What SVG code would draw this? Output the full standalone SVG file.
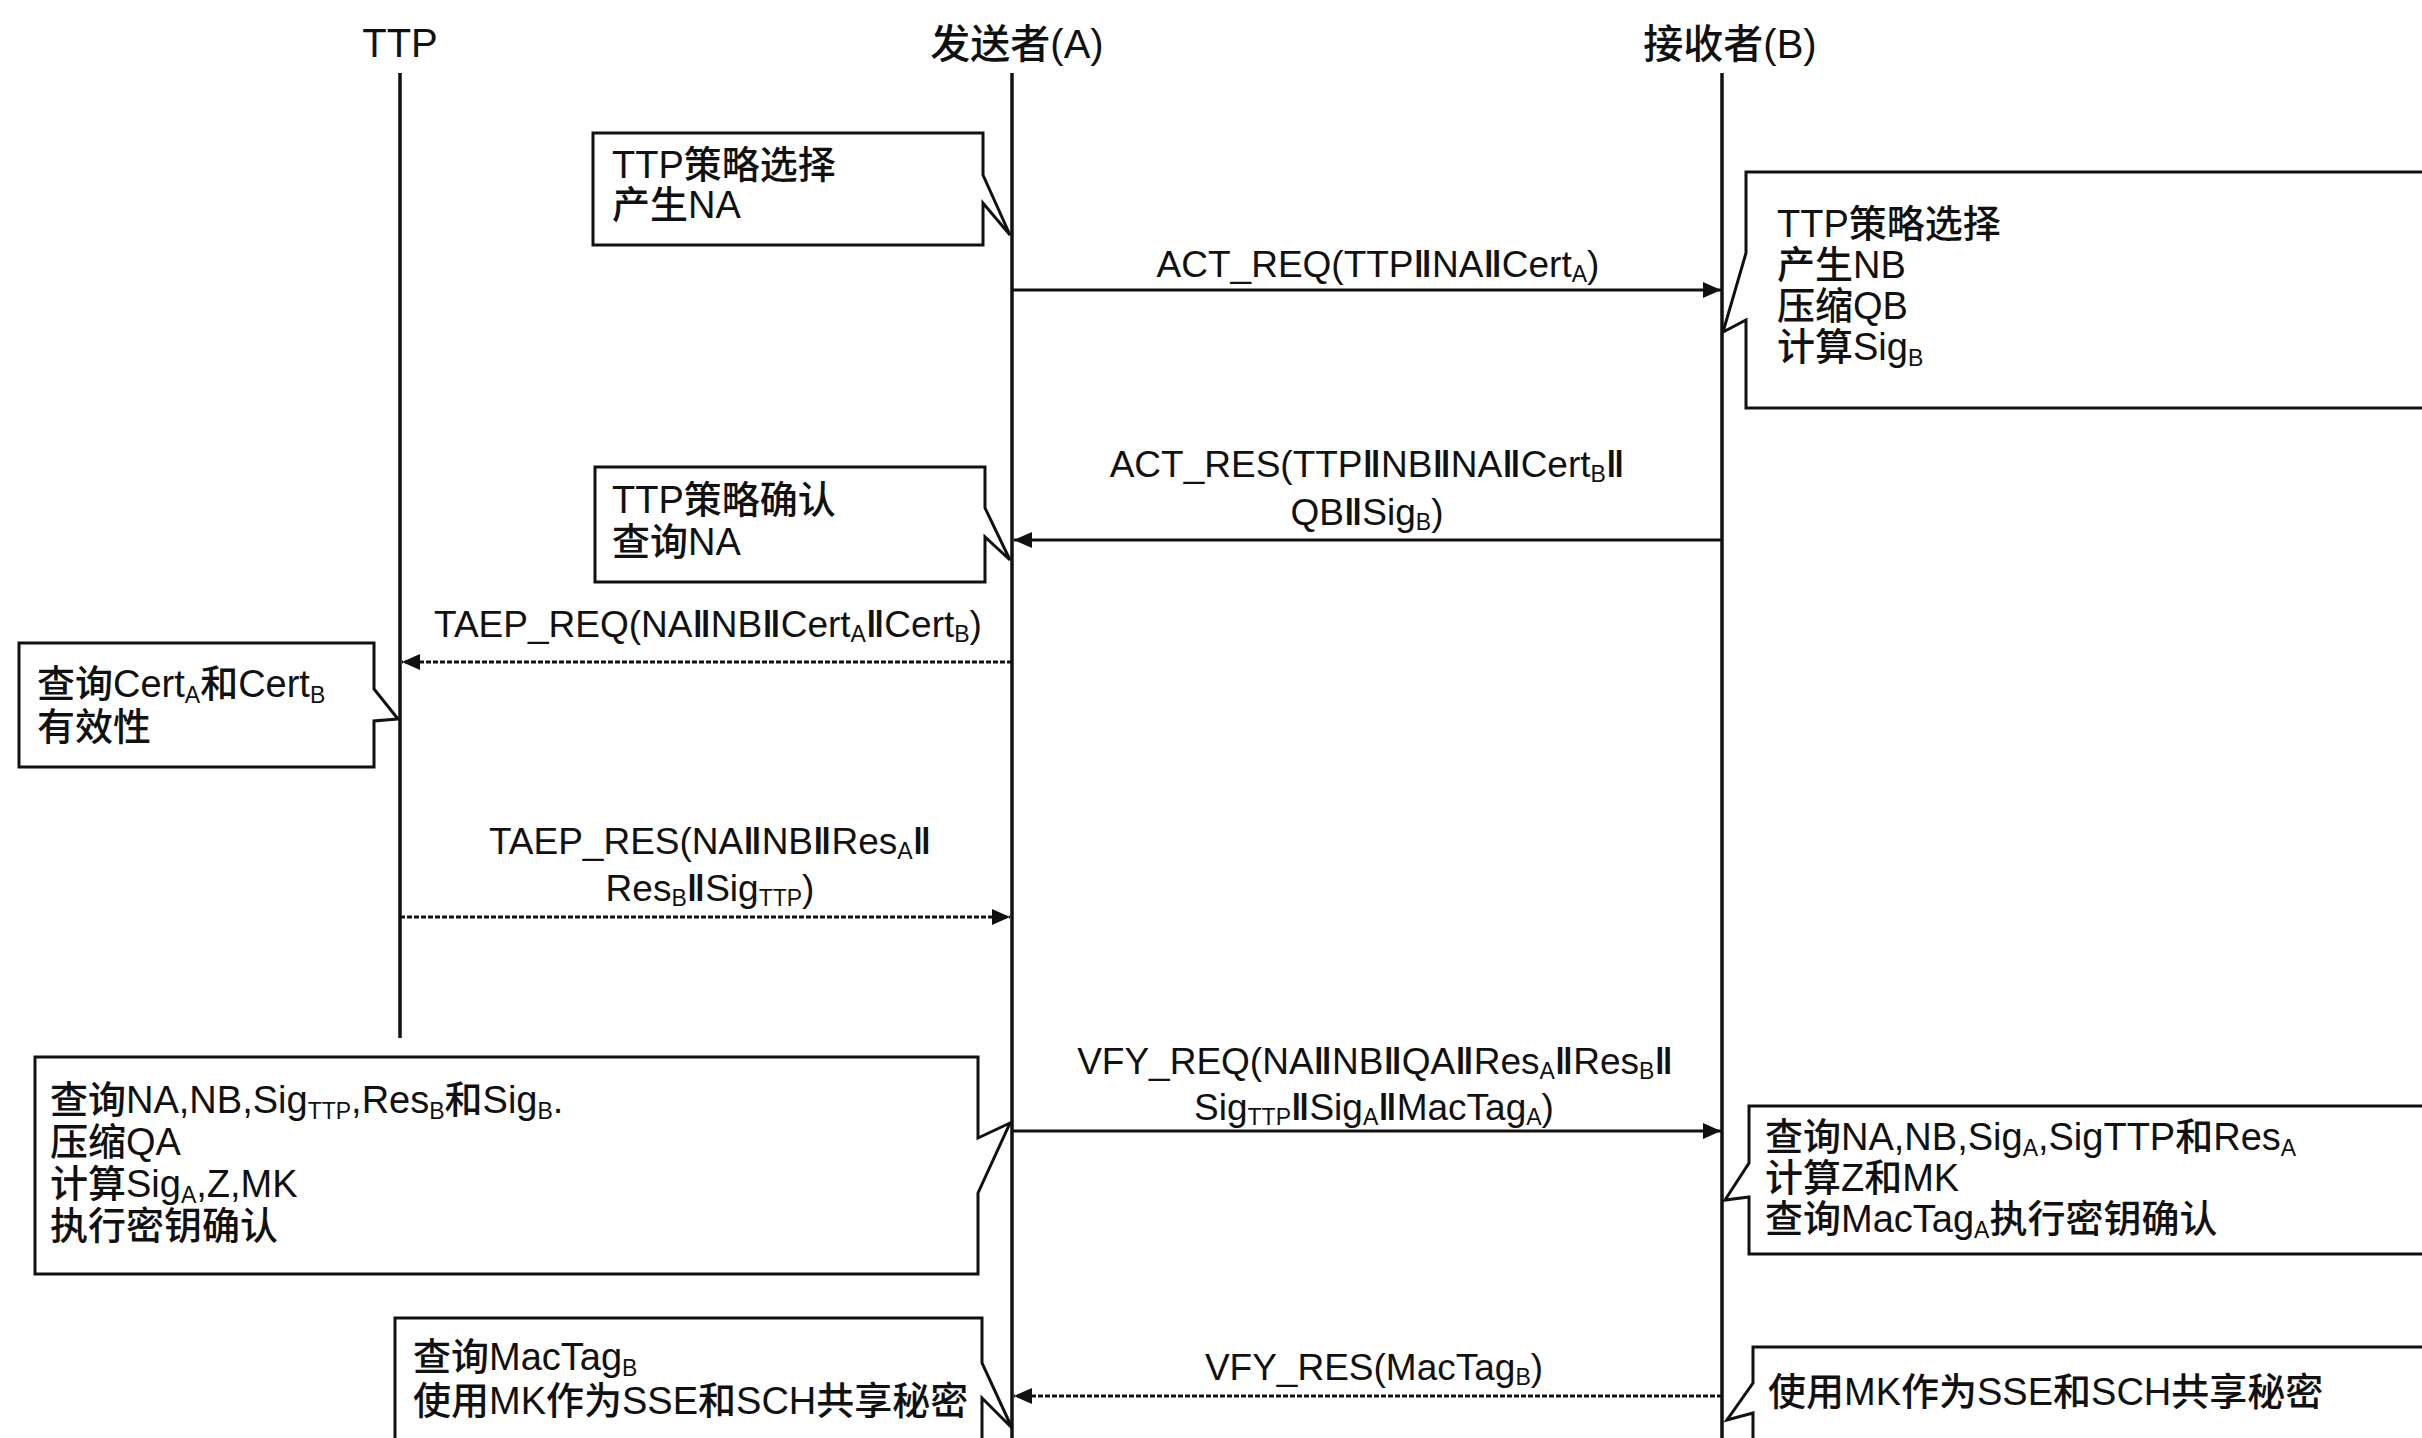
<svg xmlns="http://www.w3.org/2000/svg" width="2422" height="1438" viewBox="0 0 2422 1438">
<style>
text{font-family:"Liberation Sans","Noto Sans CJK SC",sans-serif;fill:#111;font-weight:500;}
.title{font-size:40px;text-anchor:middle;}
.lbl{font-size:37px;text-anchor:middle;}
.note{font-size:38px;}
.sub{font-size:23px;}
.sep{font-weight:bold;}
.life{stroke:#111;stroke-width:3.5;fill:none;}
.box{stroke:#111;stroke-width:3;fill:#fff;}
.msg{stroke:#111;stroke-width:3;fill:none;marker-end:url(#ah);}
.dash{stroke-dasharray:5 2;}
</style>
<defs>
<marker id="ah" markerUnits="userSpaceOnUse" markerWidth="20" markerHeight="18" refX="18" refY="8" orient="auto">
<path d="M0,0 L18,8 L0,16 Z" fill="#111"/>
</marker>
</defs>
<rect width="2422" height="1438" fill="#fff"/>

<g id="ttp">
<text class="title" x="400" y="57">TTP</text>
<line class="life" x1="400" y1="73" x2="400" y2="1038"/>
</g>
<g id="sender">
<text class="title" x="1017" y="58">发送者(A)</text>
<line class="life" x1="1012" y1="73" x2="1012" y2="1440"/>
</g>
<g id="receiver">
<text class="title" x="1730" y="58">接收者(B)</text>
<line class="life" x1="1722" y1="73" x2="1722" y2="1440"/>
</g>

<g id="note-a1">
<path class="box" d="M593,133 H983 V175 L1010,235 L983,203 V245 H593 Z"/>
<text class="note" x="612" y="178">TTP策略选择</text>
<text class="note" x="612" y="218">产生NA</text>
</g>
<g id="note-b1">
<path class="box" d="M2440,172 H1746 V253 L1723,332 L1746,320 V408 H2440 Z"/>
<text class="note" x="1777" y="237">TTP策略选择</text>
<text class="note" x="1777" y="278">产生NB</text>
<text class="note" x="1777" y="319">压缩QB</text>
<text class="note" x="1777" y="360">计算Sig<tspan class="sub" dy="6">B</tspan></text>
</g>
<g id="note-a2">
<path class="box" d="M595,467 H985 V508 L1010,560 L985,537 V582 H595 Z"/>
<text class="note" x="612" y="513">TTP策略确认</text>
<text class="note" x="612" y="555">查询NA</text>
</g>
<g id="note-ttp">
<path class="box" d="M19,643 H374 V689 L398,719 L374,721 V767 H19 Z"/>
<text class="note" x="37" y="697">查询Cert<tspan class="sub" dy="6">A</tspan><tspan dy="-6">和Cert</tspan><tspan class="sub" dy="6">B</tspan></text>
<text class="note" x="37" y="740">有效性</text>
</g>
<g id="note-a3">
<path class="box" d="M35,1057 H978 V1138 L1010,1123 L978,1193 V1274 H35 Z"/>
<text class="note" x="50" y="1113">查询NA,NB,Sig<tspan class="sub" dy="6">TTP</tspan><tspan dy="-6">,Res</tspan><tspan class="sub" dy="6">B</tspan><tspan dy="-6">和Sig</tspan><tspan class="sub" dy="6">B</tspan><tspan dy="-6">.</tspan></text>
<text class="note" x="50" y="1155">压缩QA</text>
<text class="note" x="50" y="1197">计算Sig<tspan class="sub" dy="6">A</tspan><tspan dy="-6">,Z,MK</tspan></text>
<text class="note" x="50" y="1239">执行密钥确认</text>
</g>
<g id="note-b3">
<path class="box" d="M2440,1106 H1749 V1163 L1725,1200 L1749,1197 V1254 H2440 Z"/>
<text class="note" x="1765" y="1150">查询NA,NB,Sig<tspan class="sub" dy="6">A</tspan><tspan dy="-6">,SigTTP和Res</tspan><tspan class="sub" dy="6">A</tspan></text>
<text class="note" x="1765" y="1191">计算Z和MK</text>
<text class="note" x="1765" y="1232">查询MacTag<tspan class="sub" dy="6">A</tspan><tspan dy="-6">执行密钥确认</tspan></text>
</g>
<g id="note-a4">
<path class="box" d="M395,1318 H982 V1363 L1012,1428 L982,1398 V1460 H395 Z"/>
<text class="note" x="413" y="1370">查询MacTag<tspan class="sub" dy="6">B</tspan></text>
<text class="note" x="413" y="1414">使用MK作为SSE和SCH共享秘密</text>
</g>
<g id="note-b4">
<path class="box" d="M2440,1347 H1753 V1383 L1727,1420 L1753,1413 V1460 H2440 Z"/>
<text class="note" x="1768" y="1405">使用MK作为SSE和SCH共享秘密</text>
</g>

<g id="connectors">
<line class="msg" x1="1012" y1="290" x2="1721" y2="290"/>
<text class="lbl" x="1378" y="277">ACT_REQ(TTP<tspan class="sep">‖</tspan>NA<tspan class="sep">‖</tspan>Cert<tspan class="sub" dy="5">A</tspan><tspan dy="-5">)</tspan></text>

<line class="msg" x1="1722" y1="540" x2="1014" y2="540"/>
<text class="lbl" x="1367" y="477">ACT_RES(TTP<tspan class="sep">‖</tspan>NB<tspan class="sep">‖</tspan>NA<tspan class="sep">‖</tspan>Cert<tspan class="sub" dy="5">B</tspan><tspan class="sep" dy="-5">‖</tspan></text>
<text class="lbl" x="1367" y="525">QB<tspan class="sep">‖</tspan>Sig<tspan class="sub" dy="5">B</tspan><tspan dy="-5">)</tspan></text>

<line class="msg dash" x1="1012" y1="662" x2="402" y2="662"/>
<text class="lbl" x="708" y="637">TAEP_REQ(NA<tspan class="sep">‖</tspan>NB<tspan class="sep">‖</tspan>Cert<tspan class="sub" dy="5">A</tspan><tspan class="sep" dy="-5">‖</tspan>Cert<tspan class="sub" dy="5">B</tspan><tspan dy="-5">)</tspan></text>

<line class="msg dash" x1="400" y1="917" x2="1010" y2="917"/>
<text class="lbl" x="710" y="854">TAEP_RES(NA<tspan class="sep">‖</tspan>NB<tspan class="sep">‖</tspan>Res<tspan class="sub" dy="5">A</tspan><tspan class="sep" dy="-5">‖</tspan></text>
<text class="lbl" x="710" y="901">Res<tspan class="sub" dy="5">B</tspan><tspan class="sep" dy="-5">‖</tspan>Sig<tspan class="sub" dy="5">TTP</tspan><tspan dy="-5">)</tspan></text>

<line class="msg" x1="1012" y1="1131" x2="1721" y2="1131"/>
<text class="lbl" x="1375" y="1074">VFY_REQ(NA<tspan class="sep">‖</tspan>NB<tspan class="sep">‖</tspan>QA<tspan class="sep">‖</tspan>Res<tspan class="sub" dy="5">A</tspan><tspan class="sep" dy="-5">‖</tspan>Res<tspan class="sub" dy="5">B</tspan><tspan class="sep" dy="-5">‖</tspan></text>
<text class="lbl" x="1374" y="1120">Sig<tspan class="sub" dy="5">TTP</tspan><tspan class="sep" dy="-5">‖</tspan>Sig<tspan class="sub" dy="5">A</tspan><tspan class="sep" dy="-5">‖</tspan>MacTag<tspan class="sub" dy="5">A</tspan><tspan dy="-5">)</tspan></text>

<line class="msg dash" x1="1722" y1="1396" x2="1014" y2="1396"/>
<text class="lbl" x="1374" y="1380">VFY_RES(MacTag<tspan class="sub" dy="5">B</tspan><tspan dy="-5">)</tspan></text>
</g>
</svg>
